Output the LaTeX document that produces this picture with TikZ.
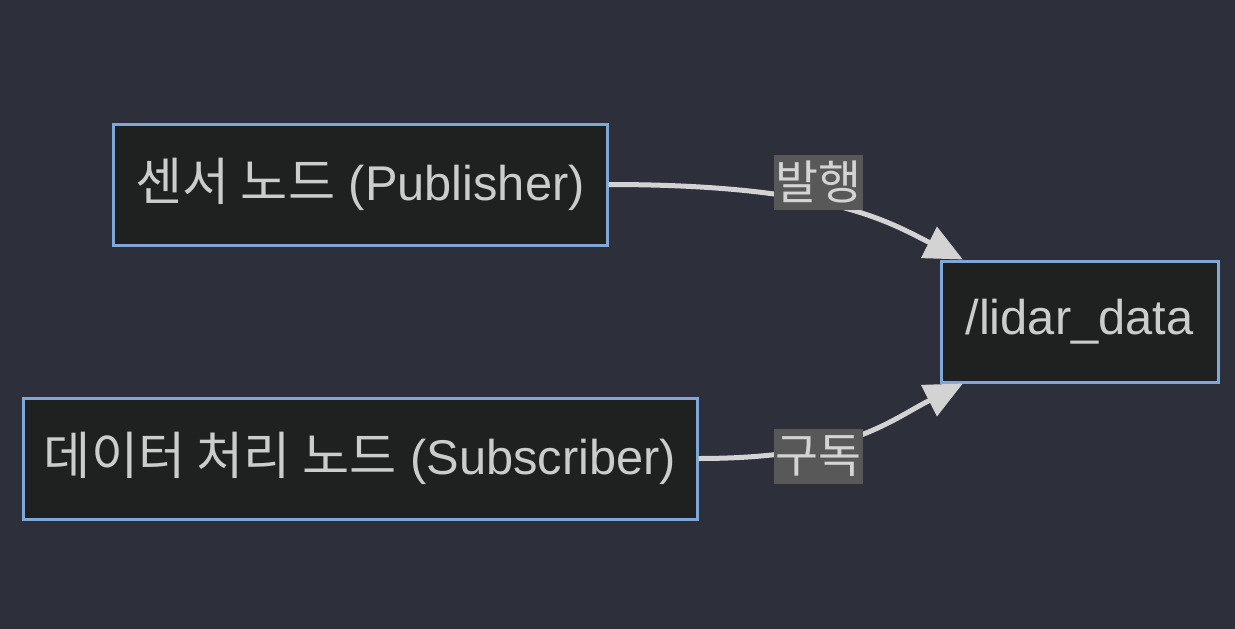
\documentclass[tikz,border=0pt]{standalone}
\usepackage{fontspec}
\setmainfont{Liberation Sans}
\newfontfamily\kr[Scale=1.05]{Noto Sans CJK KR}
\usetikzlibrary{arrows.meta}
\definecolor{bgc}{HTML}{2D303B}
\definecolor{nodefill}{HTML}{1F2020}
\definecolor{nodeline}{HTML}{7FA8D8}
\definecolor{txt}{HTML}{CCCCCC}
\definecolor{edgec}{HTML}{D3D3D3}
\definecolor{tagfill}{HTML}{585858}
\definecolor{tagtxt}{HTML}{D4D4D4}

\begin{document}
\begin{tikzpicture}[x=1pt,y=-1pt,
  box/.style={draw=nodeline,line width=3pt,fill=nodefill,text=txt,
    minimum height=121pt,inner sep=0pt,font=\fontsize{48.8}{58}\selectfont},
  flow/.style={draw=edgec,line width=5pt,-{Triangle[length=38pt,width=34pt]}},
  tag/.style={fill=tagfill,text=tagtxt,minimum width=89pt,minimum height=55pt,
    inner sep=0pt,font=\kr\fontsize{44.5}{50}\selectfont}]
 \useasboundingbox[fill=bgc] (0,0) rectangle (1235,629);
 \node[box,minimum width=494pt] (sensor) at (360,184.5) {{\kr 센서 노드} (Publisher)};
 \node[box,minimum width=674pt] (proc) at (360,458.5) {{\kr 데이터 처리 노드} (Subscriber)};
 \node[box,minimum width=277pt] (topic) at (1079.5,321.5) {/lidar\_data};
 \draw[flow] (sensor.east) .. controls +(220,0) and +(-75,-38) .. (topic.152);
 \draw[flow] (proc.east) .. controls +(150,0) and +(-75,38) .. (topic.208);
 \node[tag] (pubtag) at (818,182) {발행};
 \node[tag] (subtag) at (818.5,456) {구독};
\end{tikzpicture}
\end{document}
